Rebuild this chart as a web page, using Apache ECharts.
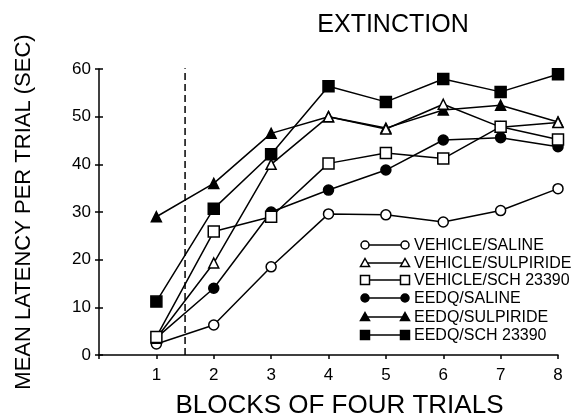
<!DOCTYPE html>
<html><head><meta charset="utf-8">
<script src="https://cdn.jsdelivr.net/npm/echarts@6/dist/echarts.min.js"></script>
<style>html,body{margin:0;padding:0;background:#fff}#c{width:573px;height:417px}</style>
</head><body><div id="c"></div>
<script>
const blocks = [1,2,3,4,5,6,7,8];
const seriesNames = ['VEHICLE/SALINE','VEHICLE/SULPIRIDE','VEHICLE/SCH 23390','EEDQ/SALINE','EEDQ/SULPIRIDE','EEDQ/SCH 23390'];
const vehicleSaline     = [2.3, 6.3, 18.5, 29.6, 29.4, 27.9, 30.3, 34.9];
const vehicleSulpiride  = [3.5, 19.3, 40.0, 50.0, 47.4, 52.6, 47.8, 48.8];
const vehicleSch        = [3.8, 25.9, 29.0, 40.2, 42.4, 41.2, 47.9, 45.2];
const eedqSaline        = [3.6, 14.0, 30.0, 34.6, 38.8, 45.1, 45.6, 43.7];
const eedqSulpiride     = [29.0, 36.0, 46.5, 50.0, 47.6, 51.4, 52.4, 48.9];
const eedqSch           = [11.2, 30.7, 42.1, 56.4, 53.1, 57.9, 55.2, 58.9];
const yTicks = [0,10,20,30,40,50,60];
const dividerAt = 1.5;
const dividerSpan = [0, 60.7];

const FONT = 'Liberation Sans, Arial, sans-serif';
const allValues = [vehicleSaline, vehicleSulpiride, vehicleSch, eedqSaline, eedqSulpiride, eedqSch];
const shapes = ['circle','triangle','rect','circle','triangle','rect'];
const filled = [false,false,false,true,true,true];
const sizes = [10,10,11,10,10,11];

const chart = echarts.init(document.getElementById('c'));
const series = [{
  type: 'line', silent: true, animation: false, symbol: 'none', z: 1,
  data: dividerSpan.map(v => [dividerAt, v]),
  lineStyle: {color: '#000', type: [7, 4], width: 1.5}
}];
allValues.forEach((vals, i) => series.push({
  name: seriesNames[i], type: 'line',
  data: vals.map((v, j) => [blocks[j], v]),
  symbol: shapes[i], symbolSize: sizes[i],
  lineStyle: {color: '#000', width: 1.5},
  itemStyle: {color: filled[i] ? '#000' : '#fff', borderColor: '#000', borderWidth: 1.5},
  emphasis: {disabled: true}, animation: false, z: filled[i] ? 2 : 3
}));

// legend drawn as graphics
const graphic = [];
const lx1 = 365, lx2 = 405, ly = [245, 263, 280, 298, 317, 335];
function mark(kind, isFilled, cx, cy) {
  const style = {fill: isFilled ? '#000' : '#fff', stroke: '#000', lineWidth: 1.5};
  if (kind === 'circle') return {type: 'circle', shape: {cx, cy, r: 4}, style};
  if (kind === 'rect') return {type: 'rect', shape: {x: cx - 4.5, y: cy - 4.5, width: 9, height: 9}, style};
  return {type: 'polygon', shape: {points: [[cx, cy - 4.5], [cx + 4.5, cy + 3.5], [cx - 4.5, cy + 3.5]]}, style};
}
seriesNames.forEach((nm, i) => {
  const y = ly[i];
  graphic.push({type: 'line', shape: {x1: lx1, y1: y, x2: lx2, y2: y}, style: {stroke: '#000', lineWidth: 1.4}});
  graphic.push(mark(shapes[i], filled[i], lx1, y));
  graphic.push(mark(shapes[i], filled[i], lx2, y));
  graphic.push({type: 'text', x: 414, y: y + 1, style: {text: nm, fontSize: 16, fontFamily: FONT, fill: '#000', verticalAlign: 'middle', textVerticalAlign: 'middle'}});
});

chart.setOption({
  animation: false,
  backgroundColor: '#fff',
  title: {text: 'EXTINCTION', left: 388, top: 8, textAlign: 'center',
    textStyle: {fontFamily: FONT, fontSize: 25, fontWeight: 'normal', color: '#000'}},
  grid: {left: 99, right: 15, top: 69, bottom: 62, containLabel: false, outerBoundsMode: 'none'},
  xAxis: {type: 'value', min: 0, max: 8, interval: 1,
    name: 'BLOCKS OF FOUR TRIALS', nameLocation: 'middle', nameGap: 38,
    nameTextStyle: {fontFamily: FONT, fontSize: 26, color: '#000', padding: [0, 0, 0, 22]},
    axisLine: {lineStyle: {color: '#000', width: 1.5}},
    axisTick: {inside: false, length: 4, lineStyle: {color: '#000', width: 1.5}},
    axisLabel: {fontFamily: FONT, fontSize: 17, color: '#000', margin: 12,
      formatter: v => v === 0 ? '' : String(v)},
    splitLine: {show: false}},
  yAxis: [{type: 'value', min: 0, max: 60, interval: 10,
    name: 'MEAN LATENCY PER TRIAL (SEC)', nameLocation: 'middle', nameGap: 64,
    nameTextStyle: {fontFamily: FONT, fontSize: 22, color: '#000'},
    axisLine: {lineStyle: {color: '#000', width: 1.5}},
    axisTick: {inside: false, length: 4, lineStyle: {color: '#000', width: 1.5}},
    axisLabel: {fontFamily: FONT, fontSize: 17, color: '#000', margin: 8,
      formatter: v => yTicks.includes(v) ? String(v) : ''},
    splitLine: {show: false}},
  {type: 'value', min: 0, max: 60, interval: 10, position: 'left',
    axisLine: {show: false}, axisLabel: {show: false}, splitLine: {show: false},
    axisTick: {inside: true, length: 4, lineStyle: {color: '#000', width: 1.5}}}],
  graphic: graphic,
  series: series
});
</script></body></html>
